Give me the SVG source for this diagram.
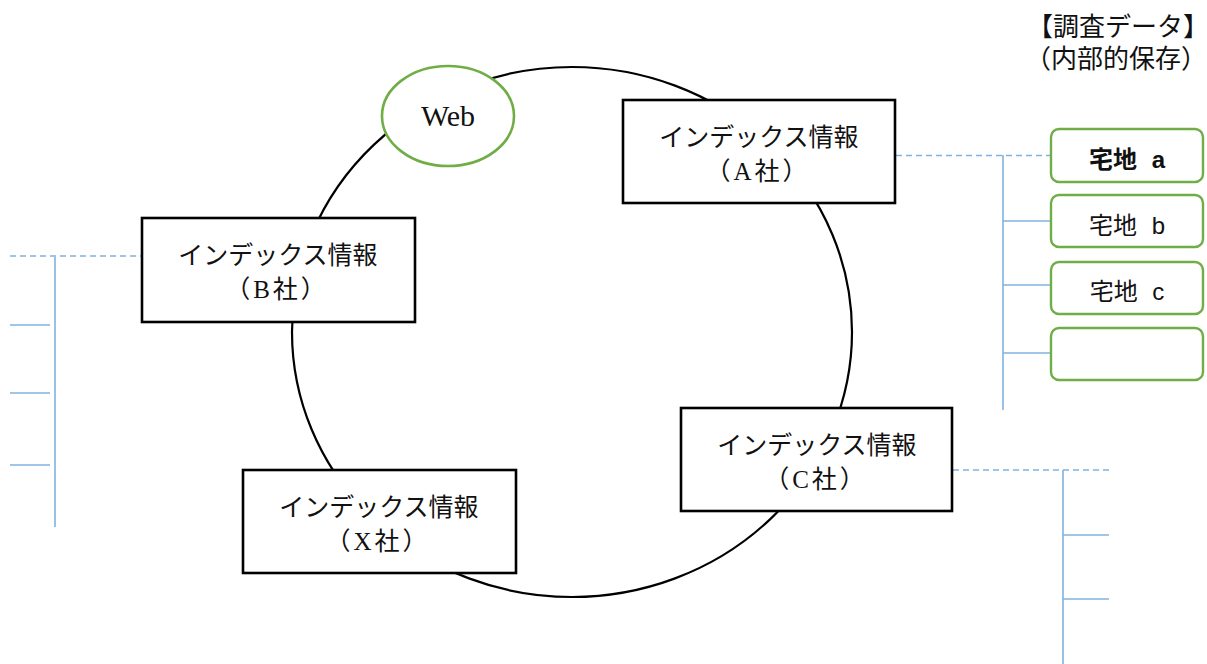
<svg xmlns="http://www.w3.org/2000/svg" width="1207" height="664" viewBox="0 0 1207 664">
  <style>
    .ring { fill: none; stroke: #000; stroke-width: 2.2; }
    .box { fill: #fff; stroke: #000; stroke-width: 2.6; }
    .web { fill: #fff; stroke: #70AD47; stroke-width: 2.6; }
    .item { fill: #fff; stroke: #70AD47; stroke-width: 2.4; }
    .trunk { stroke: #7FB2E0; stroke-width: 1.6; fill: none; }
    .dash { stroke: #7FB2E0; stroke-width: 1.4; stroke-dasharray: 6 4; fill: none; }
    .jp { font-family: "Liberation Serif", "Noto Sans CJK JP", serif; font-size: 25px; fill: #111; text-anchor: middle; }
    .co { letter-spacing: 3px; }
    .lbl { font-family: "Liberation Sans", "Noto Sans CJK JP", sans-serif; font-size: 24px; fill: #111; text-anchor: middle; word-spacing: 8px; }
  </style>

  <!-- shared ring linking the index sources -->
  <g id="ring">
    <ellipse class="ring" cx="572" cy="332" rx="280" ry="265"/>
  </g>

  <!-- connector trees to the stored data -->
  <g id="connectors">
    <!-- A -->
    <line class="dash" x1="896" y1="155.5" x2="1050" y2="155.5"/>
    <line class="trunk" x1="1003" y1="155" x2="1003" y2="410"/>
    <line class="trunk" x1="1003" y1="221" x2="1050" y2="221"/>
    <line class="trunk" x1="1003" y1="285" x2="1050" y2="285"/>
    <line class="trunk" x1="1003" y1="353" x2="1050" y2="353"/>
    <!-- B -->
    <line class="dash" x1="10" y1="256" x2="141" y2="256"/>
    <line class="trunk" x1="55" y1="257" x2="55" y2="527"/>
    <line class="trunk" x1="10" y1="325" x2="50" y2="325"/>
    <line class="trunk" x1="10" y1="393" x2="50" y2="393"/>
    <line class="trunk" x1="10" y1="465" x2="50" y2="465"/>
    <!-- C -->
    <line class="dash" x1="953" y1="470" x2="1109" y2="470"/>
    <line class="trunk" x1="1063" y1="470" x2="1063" y2="664"/>
    <line class="trunk" x1="1063" y1="535" x2="1109" y2="535"/>
    <line class="trunk" x1="1063" y1="599" x2="1109" y2="599"/>
  </g>

  <g id="web">
    <ellipse class="web" cx="448" cy="116" rx="66" ry="50"/>
    <text class="jp" x="448" y="126" style="font-size:30px">Web</text>
  </g>

  <g id="index-a">
    <rect class="box" x="623" y="100" width="272" height="103"/>
    <text class="jp" x="759" y="146">インデックス情報</text>
    <text class="jp co" x="758" y="180">（A社）</text>
  </g>

  <g id="index-b">
    <rect class="box" x="142" y="218" width="273" height="104"/>
    <text class="jp" x="278" y="264">インデックス情報</text>
    <text class="jp co" x="277" y="298">（B社）</text>
  </g>

  <g id="index-c">
    <rect class="box" x="681" y="408" width="271" height="103"/>
    <text class="jp" x="817" y="454">インデックス情報</text>
    <text class="jp co" x="816" y="488">（C社）</text>
  </g>

  <g id="index-x">
    <rect class="box" x="243" y="470" width="273" height="103"/>
    <text class="jp" x="379" y="516">インデックス情報</text>
    <text class="jp co" x="378" y="550">（X社）</text>
  </g>

  <g id="store-title">
    <text class="jp" x="1118" y="36" style="font-size:26px">【調査データ】</text>
    <text class="jp" x="1116" y="68" style="font-size:26px">（内部的保存）</text>
  </g>

  <g id="lot-a">
    <rect class="item" x="1051" y="129" width="152" height="53" rx="8"/>
    <text class="lbl" x="1127" y="168" font-weight="bold">宅地 a</text>
  </g>
  <g id="lot-b">
    <rect class="item" x="1051" y="195" width="152" height="52" rx="8"/>
    <text class="lbl" x="1127" y="234">宅地 b</text>
  </g>
  <g id="lot-c">
    <rect class="item" x="1051" y="262" width="152" height="52" rx="8"/>
    <text class="lbl" x="1127" y="300">宅地 c</text>
  </g>
  <g id="lot-empty">
    <rect class="item" x="1051" y="328" width="152" height="52" rx="8"/>
  </g>
</svg>
